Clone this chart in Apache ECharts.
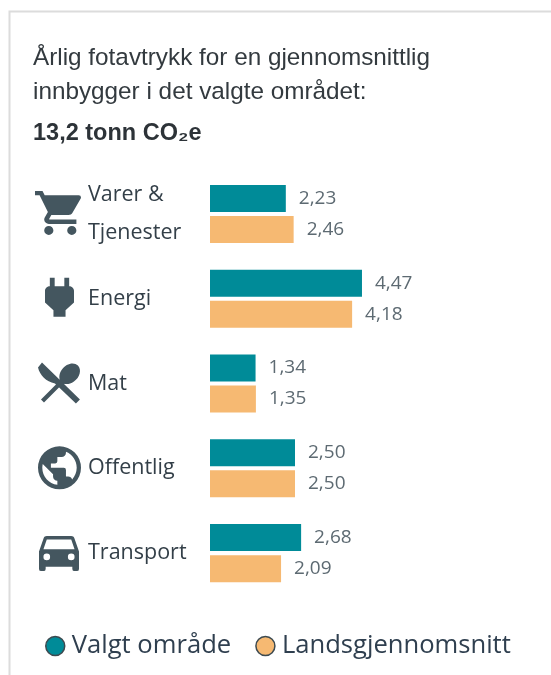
<!DOCTYPE html>
<html><head><meta charset="utf-8">
<style>html,body{margin:0;padding:0;background:#fff}#c{width:551px;height:675px}</style>
<script src="https://cdn.jsdelivr.net/npm/echarts@6/dist/echarts.min.js"></script>
</head><body><div id="c"></div>
<script>
const categories = ['Varer &\nTjenester','Energi','Mat','Offentlig','Transport'];
const valgt = [2.23,4.47,1.34,2.50,2.68];
const land = [2.46,4.18,1.35,2.50,2.09];
const seriesNames = ['Valgt område','Landsgjennomsnitt'];
const titleLines = 'Årlig fotavtrykk for en gjennomsnittlig\ninnbygger i det valgte området:';
const totalLine = '13,2 tonn CO₂e';
const iconColor = '#44565f';
const icons = [
 {d:'M17,18C15.89,18 15,18.89 15,20A2,2 0 0,0 17,22A2,2 0 0,0 19,20C19,18.89 18.1,18 17,18M1,2V4H3L6.6,11.59L5.24,14.04C5.09,14.32 5,14.65 5,15A2,2 0 0,0 7,17H19V15H7.42A0.25,0.25 0 0,1 7.17,14.75C7.17,14.7 7.18,14.66 7.2,14.63L8.1,13H15.55C16.3,13 16.96,12.58 17.3,11.97L20.88,5.5C20.95,5.34 21,5.17 21,5A1,1 0 0,0 20,4H5.21L4.27,2M7,18C5.89,18 5,18.89 5,20A2,2 0 0,0 7,22A2,2 0 0,0 9,20C9,18.89 8.1,18 7,18Z',x:35,dy:-23,w:46,h:44},
 {d:'M16,7V3H14V7H10V3H8V7C7,7 6,8 6,9V14.5L9.5,18V21H14.5V18L18,14.5V9C18,8 17,7 16,7Z',x:45,dy:-21,w:29,h:39},
 {d:'M21,3C23,5 22,9 19,11C17,12.5 15,12.5 13.5,12L4,21.5L2.5,20L12,10.5C11.5,9 11.5,7 13,5C15,2 19,1 21,3ZM1,4L3,1.5L22,20L20,22L9.5,12C5,11 2,8 1,4Z',x:38,dy:-21,w:42,h:41},
 {d:'M17.9,17.39C17.64,16.59 16.89,16 16,16H15V13A1,1 0 0,0 14,12H8V10H10A1,1 0 0,0 11,9V7H13A2,2 0 0,0 15,5V4.59C17.93,5.77 20,8.64 20,12C20,14.08 19.2,15.97 17.9,17.39M11,19.93C7.05,19.44 4,16.08 4,12C4,11.38 4.08,10.78 4.21,10.21L9,15V16A2,2 0 0,0 11,18M12,2A10,10 0 0,0 2,12A10,10 0 0,0 12,22A10,10 0 0,0 22,12A10,10 0 0,0 12,2Z',x:38,dy:-22,w:43,h:43},
 {d:'M5,11L6.5,6.5H17.5L19,11M17.5,16A1.5,1.5 0 0,1 16,14.5A1.5,1.5 0 0,1 17.5,13A1.5,1.5 0 0,1 19,14.5A1.5,1.5 0 0,1 17.5,16M6.5,16A1.5,1.5 0 0,1 5,14.5A1.5,1.5 0 0,1 6.5,13A1.5,1.5 0 0,1 8,14.5A1.5,1.5 0 0,1 6.5,16M18.92,6C18.72,5.42 18.16,5 17.5,5H6.5C5.84,5 5.28,5.42 5.08,6L3,12V20A1,1 0 0,0 4,21H5A1,1 0 0,0 6,20V19H18V20A1,1 0 0,0 19,21H20A1,1 0 0,0 21,20V12L18.92,6Z',x:39,dy:-17,w:40,h:35}
];
const fmt = v => v.toFixed(2).replace('.',',');
const mkSeries = (name,data,color) => ({
  name,type:'bar',data,barWidth:27,barGap:'15%',
  itemStyle:{color},
  label:{show:true,position:'right',distance:13,color:'#5d6a72',fontFamily:'Open Sans',fontSize:19,
    formatter:p=>fmt(p.value)}
});
const chart = echarts.init(document.getElementById('c'),null,{renderer:'canvas'});
chart.setOption({
  animation:false,
  backgroundColor:'#fff',
  title:[
   {text:titleLines,left:28,top:36,textStyle:{fontFamily:'Liberation Sans',fontSize:24.3,fontWeight:'normal',color:'#333a3f',lineHeight:34}},
   {text:totalLine,left:28,top:117,textStyle:{fontFamily:'Liberation Sans',fontSize:23.5,fontWeight:'bold',color:'#2d3338'}}
  ],
  grid:{left:210,top:171.5,width:340,height:424},
  xAxis:{type:'value',min:0,max:10,show:false},
  yAxis:{type:'category',inverse:true,data:categories,
    axisLine:{show:false},axisTick:{show:false},
    axisLabel:{align:'left',margin:122,fontFamily:'Open Sans',fontSize:21.5,color:'#333f48',lineHeight:38,padding:[4,0,0,0]}},
  legend:{data:seriesNames,left:40,top:628,icon:'circle',itemWidth:19,itemHeight:19,itemGap:24,
    textStyle:{fontFamily:'Open Sans',fontSize:25.6,color:'#2f3f4f',padding:[0,0,0,2]},
    itemStyle:{borderColor:'#3d4a50',borderWidth:1.5}},
  series:[mkSeries(seriesNames[0],valgt,'#008b98'),mkSeries(seriesNames[1],land,'#f6b972'),
   {type:'custom',silent:true,data:categories.map((c,i)=>[0,i]),encode:{x:0,y:1},clip:false,
    renderItem:(p,api)=>{const i=icons[p.dataIndex],cy=api.coord([0,p.dataIndex])[1];
      return {type:'path',shape:{pathData:i.d,x:i.x,y:cy+i.dy,width:i.w,height:i.h,layout:'cover'},style:{fill:iconColor}};}}
  ],
  graphic:[
   {type:'polyline',shape:{points:[[9.5,675],[9.5,11.5],[551,11.5]]},style:{stroke:'#dcdcdc',lineWidth:2,fill:null},silent:true}
  ]
});
</script></body></html>
